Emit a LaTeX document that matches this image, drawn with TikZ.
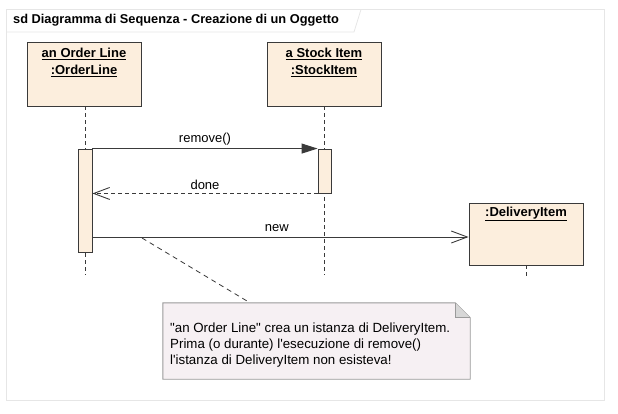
\documentclass[tikz,border=0pt]{standalone}
\usepackage{fontspec}
\setmainfont{Liberation Sans}[Ligatures=TeXOff]
\usetikzlibrary{arrows.meta}
\definecolor{objfill}{HTML}{FCEEDD}
\definecolor{objline}{HTML}{3A3A3A}
\definecolor{notefill}{HTML}{F6F0F3}
\definecolor{noteline}{HTML}{9A9A9A}
\definecolor{framecol}{HTML}{E6E6E6}
\tikzset{
  objbox/.style={draw=objline, fill=objfill, line width=0.9pt, inner sep=0pt},
  objtext/.style={anchor=center, align=center, font=\fontsize{13}{17}\selectfont\bfseries, inner sep=0pt},
  actbox/.style={draw=objline, fill=objfill, line width=0.9pt, inner sep=0pt},
  lifeline/.style={draw=objline, line width=0.8pt, dash pattern=on 4pt off 3pt},
  msgsync/.style={draw=objline, line width=0.9pt, -{Triangle[length=16pt,width=10pt]}},
  msgopen/.style={draw=objline, line width=0.9pt, -{Straight Barb[length=16pt,width=12pt,line width=0.9pt]}},
  msglabel/.style={font=\fontsize{13}{15}\selectfont, inner sep=0pt, anchor=center, yshift=9pt},
  notetext/.style={align=left, font=\fontsize{13.3}{16}\selectfont, inner sep=0pt, anchor=west},
}
\begin{document}
\begin{tikzpicture}[x=1pt,y=-1pt]
\useasboundingbox (0,0) rectangle (618,413);
% frame
\draw[framecol, line width=0.8pt] (6.5,9.5) rectangle (604,400);
\draw[framecol, line width=0.8pt] (6.5,32) -- (354,32) -- (361,9.5);
\node[anchor=west, font=\fontsize{12.8}{14}\selectfont\bfseries, inner sep=0pt] (title) at (13,20.5) {sd Diagramma di Sequenza - Creazione di un Oggetto};
% objects
\node[objbox, minimum width=114pt, minimum height=64pt] (ol) at (84,74) {};
\node[objtext] (oltext) at (84,62.5) {\underline{an Order Line}\\\underline{:OrderLine}};
\node[objbox, minimum width=114pt, minimum height=64pt] (si) at (324,74) {};
\node[objtext] (sitext) at (324,62.5) {\underline{a Stock Item}\\\underline{:StockItem}};
\node[objbox, minimum width=114pt, minimum height=62pt] (di) at (526,234) {};
\node[objtext] (ditext) at (526,214) {\underline{:DeliveryItem}};
% lifelines
\coordinate (olend) at (85,275);
\coordinate (siend) at (324,275);
\coordinate (diend) at (526,276);
\draw[lifeline] (ol.south -| olend) -- (olend);
\draw[lifeline] (si.south) -- (siend);
\draw[lifeline] (di.south) -- (diend);
% activations
\node[actbox, minimum width=14pt, minimum height=103pt] (actA) at (85,200.5) {};
\node[actbox, minimum width=13pt, minimum height=44pt] (actB) at (324.5,171) {};
% messages
\draw[msgsync] (actA.north east) -- node[msglabel] {remove()} (actB.north west);
\coordinate (doneend) at (actA.east |- actB.south);
\draw[msgopen, dash pattern=on 4pt off 3pt] (actB.south west) -- node[msglabel] {done} (doneend);
\coordinate (newstart) at (92,237);
\coordinate (newend) at (di.west |- newstart);
\draw[msgopen] (newstart) -- node[msglabel, xshift=-3.5pt] {new} (newend);
% note
\node[minimum width=307pt, minimum height=76pt, inner sep=0pt] (note) at (316.5,341) {};
\fill[notefill] (note.north west) -- ([xshift=-15pt]note.north east) -- ([yshift=-15pt]note.north east) -- (note.south east) -- (note.south west) -- cycle;
\draw[noteline, line width=0.9pt] (note.north west) -- ([xshift=-15pt]note.north east) -- ([yshift=-15pt]note.north east) -- (note.south east) -- (note.south west) -- cycle;
\fill[noteline!40] ([xshift=-15pt]note.north east) -- ([xshift=-15pt,yshift=-15pt]note.north east) -- ([yshift=-15pt]note.north east) -- cycle;
\draw[noteline, line width=0.9pt] ([xshift=-15pt]note.north east) -- ([xshift=-15pt,yshift=-15pt]note.north east) -- ([yshift=-15pt]note.north east);
\node[notetext] (notetxt) at (170,345.5) {"an Order Line" crea un istanza di DeliveryItem.\\Prima (o durante) l'esecuzione di remove()\\l'istanza di DeliveryItem non esisteva!};
% note link
\coordinate (linkstart) at (142,238);
\draw[objline, line width=0.8pt, dash pattern=on 5pt off 4pt] (linkstart) -- (note.north west -| 250,0);
\end{tikzpicture}
\end{document}
